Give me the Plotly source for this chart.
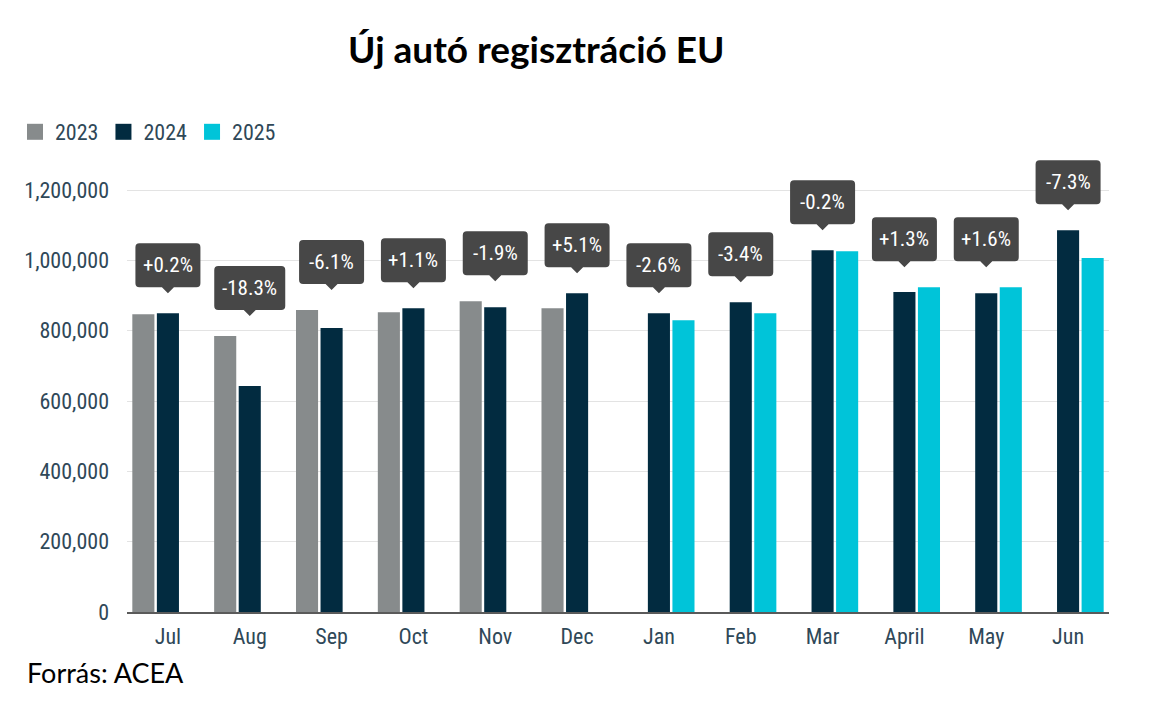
import plotly.graph_objects as go

# ---- data ----
months = ["Jul", "Aug", "Sep", "Oct", "Nov", "Dec", "Jan", "Feb", "Mar", "April", "May", "Jun"]
reg_2023 = [847000, 785000, 859000, 853000, 884000, 864000, None, None, None, None, None, None]
reg_2024 = [850000, 643000, 808000, 864000, 867000, 907000, 850000, 881000, 1029000, 910000, 907000, 1086000]
reg_2025 = [None, None, None, None, None, None, 830000, 850000, 1026000, 924000, 924000, 1007000]
changes = ["+0.2%", "-18.3%", "-6.1%", "+1.1%", "-1.9%", "+5.1%", "-2.6%", "-3.4%", "-0.2%", "+1.3%", "+1.6%", "-7.3%"]
y_ticks = [0, 200000, 400000, 600000, 800000, 1000000, 1200000]

title_text = "Új autó regisztráció EU"
source_text = "Forrás: ACEA"

# ---- styles ----
C23, C24, C25 = "#878b8c", "#022b40", "#00c4d9"
CALLOUT = "#474747"
TXT = "#2f4858"
NARROW = "Liberation Sans Narrow, Roboto Condensed, Arial Narrow, DejaVu Sans Condensed, sans-serif"
YMAX = 1320000
OFF = 8  # page body margin
PLOT_TOP, PLOT_BOTTOM, PLOT_LEFT, PLOT_RIGHT = 148 - OFF, 612 - OFF, 127 - OFF, 1109 - OFF
PH = PLOT_BOTTOM - PLOT_TOP
PW = PLOT_RIGHT - PLOT_LEFT

fig = go.Figure()
for name, vals, col in [("2023", reg_2023, C23), ("2024", reg_2024, C24), ("2025", reg_2025, C25)]:
    fig.add_trace(go.Bar(x=months, y=vals, name=name, marker_color=col,
                         marker_line_width=0, showlegend=False))
    fig.add_trace(go.Scatter(x=[None], y=[None], mode="markers", name=name,
                             marker=dict(symbol="square", size=18, color=col)))

# ---- callouts ----
def callout_path(w, d=20, tip=6, h=44, r=4):
    b = d + tip
    t = b + h
    hw = w / 2
    return (f"M 0,{d} L {tip},{b} L {hw - r},{b} Q {hw},{b} {hw},{b + r} "
            f"L {hw},{t - r} Q {hw},{t} {hw - r},{t} L {-hw + r},{t} Q {-hw},{t} {-hw},{t - r} "
            f"L {-hw},{b + r} Q {-hw},{b} {-hw + r},{b} L {-tip},{b} Z")

for i, (m, lab) in enumerate(zip(months, changes)):
    vals = [v for v in (reg_2023[i], reg_2024[i], reg_2025[i]) if v is not None]
    top = max(vals)
    w = 6 * len(lab) + 35
    fig.add_shape(type="path", xref="x", yref="y", xsizemode="pixel", ysizemode="pixel",
                  xanchor=i, yanchor=top, path=callout_path(w),
                  fillcolor=CALLOUT, line=dict(width=0), layer="above")
    fig.add_annotation(x=m, y=top, text=lab, showarrow=False, yshift=20 + 6 + 22,
                       font=dict(family=NARROW, size=21, color="white"))

fig.add_annotation(text="<b>" + title_text + "</b>", xref="paper", yref="paper",
                   x=(536 - OFF - PLOT_LEFT) / PW, y=1 + (PLOT_TOP - (49 - OFF)) / PH,
                   showarrow=False,
                   font=dict(family="Lato, Carlito, Calibri, sans-serif", size=37, color="black"),
                   xanchor="center", yanchor="middle")
fig.add_annotation(text=source_text, xref="paper", yref="paper", x=(17 - PLOT_LEFT) / PW,
                   y=-((672 - OFF) - PLOT_BOTTOM) / PH, showarrow=False,
                   xanchor="left", yanchor="middle",
                   font=dict(family="Lato, Carlito, Calibri, sans-serif", size=27, color="black"))

fig.update_layout(
    width=1164, height=718,
    margin=dict(l=PLOT_LEFT, r=1164 - PLOT_RIGHT, t=PLOT_TOP, b=718 - PLOT_BOTTOM,
                autoexpand=False),
    paper_bgcolor="white", plot_bgcolor="white",
    barmode="group", bargap=0.1, bargroupgap=0.1,
    legend=dict(orientation="h", xref="container", yref="container",
                x=7 / 1164, y=1 - 124 / 718, xanchor="left", yanchor="middle",
                font=dict(family=NARROW, size=22, color=TXT), itemsizing="trace"),
    xaxis=dict(type="category", tickfont=dict(family=NARROW, size=22, color=TXT),
               showgrid=False, showline=True, linecolor="#5a5a5a", linewidth=2,
               ticks="", ticklabelstandoff=4),
    yaxis=dict(range=[0, YMAX], tickvals=y_ticks, tickformat=",",
               tickfont=dict(family=NARROW, size=22, color=TXT),
               showgrid=True, gridcolor="#e3e3e3", gridwidth=1, zeroline=False,
               ticks="", ticklabelstandoff=17),
)

fig.write_html("out.html")
